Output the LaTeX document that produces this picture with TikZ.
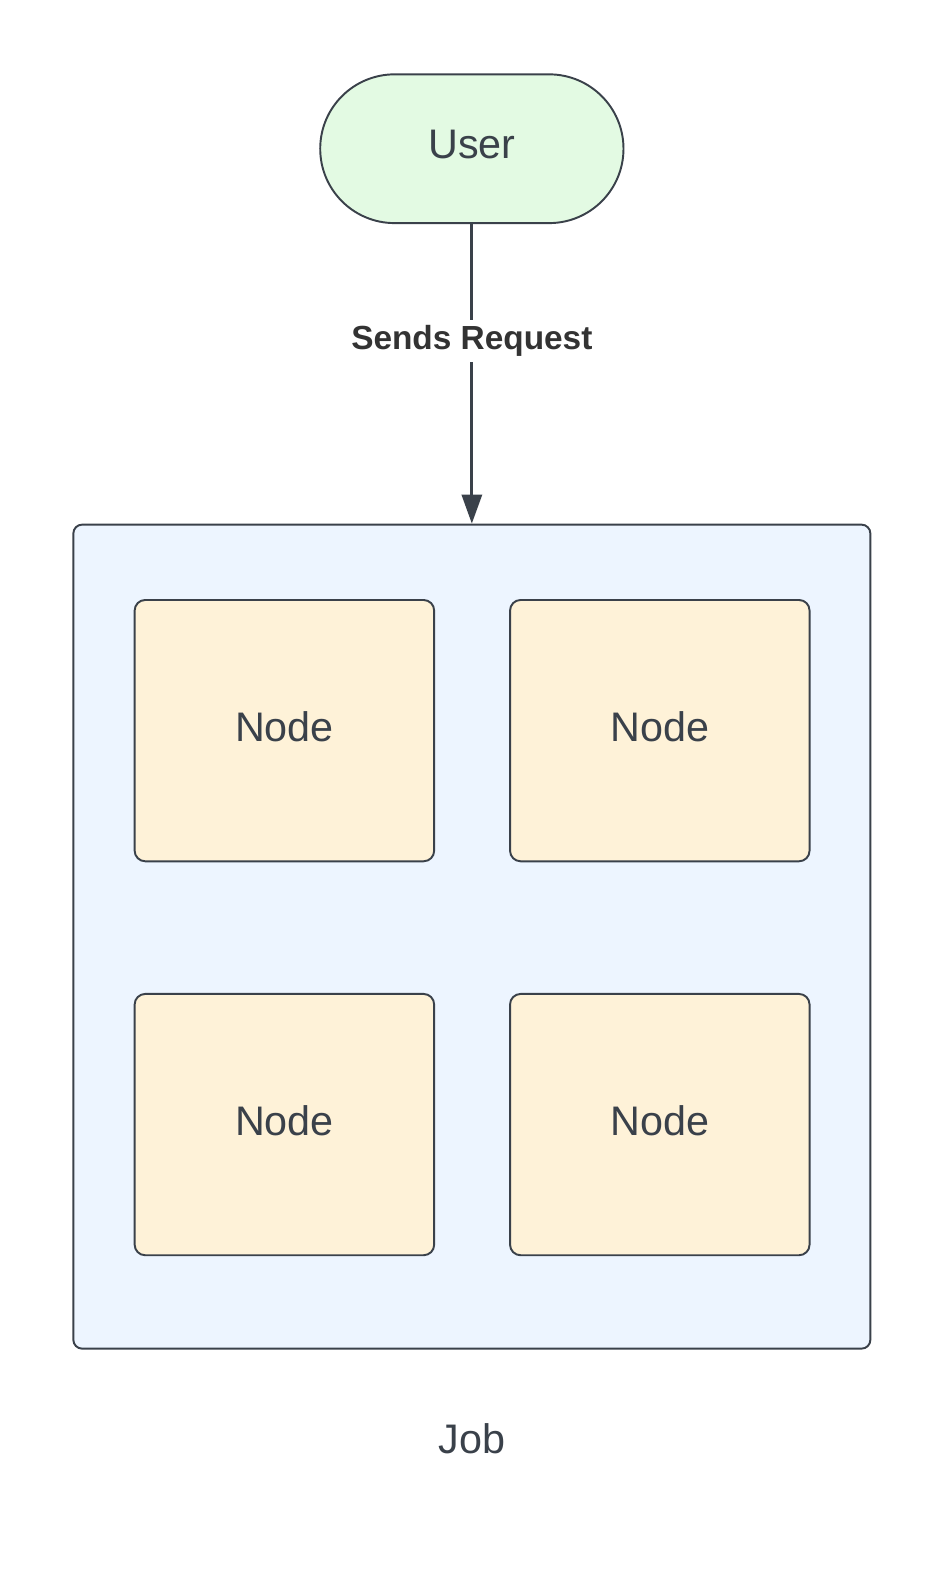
\documentclass[tikz,border=0pt]{standalone}
\usepackage{fontspec}
\setmainfont{Liberation Sans}
\usepackage{xcolor}
\usetikzlibrary{arrows.meta, shapes.misc}

\definecolor{edgegray}{HTML}{3A414A}
\definecolor{usergreen}{HTML}{E3FAE3}
\definecolor{jobblue}{HTML}{EDF5FF}
\definecolor{nodecream}{HTML}{FEF2D8}
\definecolor{labelgray}{HTML}{333333}

\tikzset{
	base/.style={draw=edgegray, line width=1.1pt, text=edgegray, text depth=0.16cm, font=\fontsize{23.5}{28}\selectfont},
	userbox/.style={base, rounded rectangle, fill=usergreen, minimum width=6.3cm, minimum height=2.975cm},
	jobbox/.style={base, rectangle, rounded corners=5pt, fill=jobblue, minimum width=15.94cm, minimum height=16.48cm},
	nodebox/.style={base, rectangle, rounded corners=6pt, fill=nodecream, minimum width=5.99cm, minimum height=5.226cm},
	edgelabel/.style={fill=white, text=labelgray, inner sep=3pt, font=\fontsize{19}{23}\selectfont\bfseries}
}

\begin{document}
\begin{tikzpicture}
	\useasboundingbox (0,0) rectangle (18.94,31.5);
	
	\node [userbox] (user) at (9.437,28.525) {User};
	\node [jobbox] (job) at (9.437,12.767) {};
	
	\node [nodebox] (node1) at (5.688,16.887) {Node};
	\node [nodebox] (node2) at (13.196,16.887) {Node};
	\node [nodebox] (node3) at (5.688,9.008) {Node};
	\node [nodebox] (node4) at (13.196,9.008) {Node};
	
	\node [text=edgegray, font=\fontsize{23.5}{28}\selectfont] (joblabel) at (9.437,2.717) {Job};
	
	\draw [draw=edgegray, line width=1.8pt, -{Triangle[length=0.58cm, width=0.4cm]}] (user.south) -- (job.north)
		node [edgelabel, pos=0.39] (sendlabel) {Sends Request};
		
\end{tikzpicture}
\end{document}
